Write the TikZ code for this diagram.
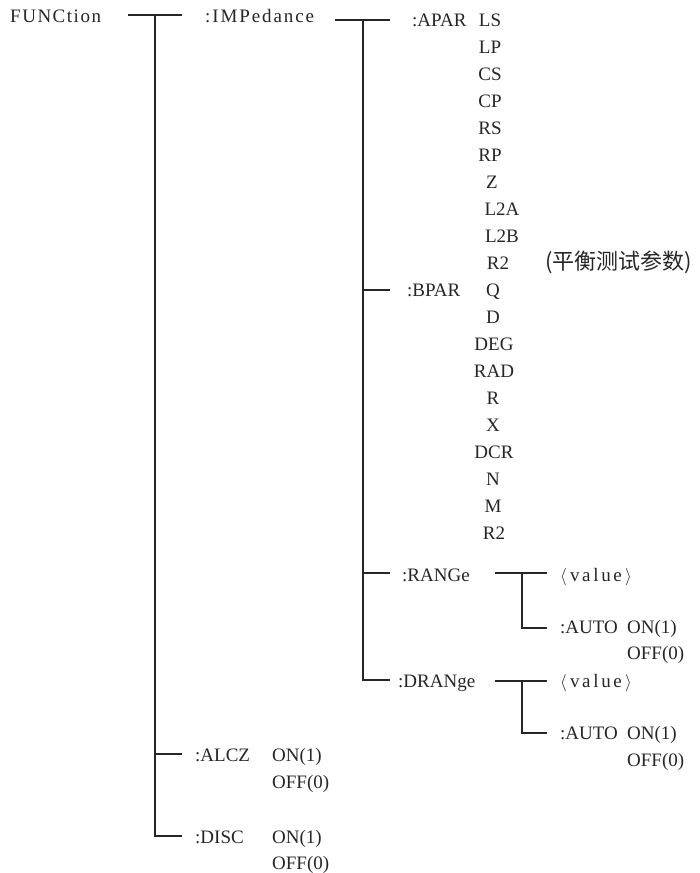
\documentclass[tikz,border=0pt]{standalone}
\usepackage{fontspec}
\setmainfont{Liberation Serif}
\newfontfamily\cjkfont{Noto Sans CJK SC}
\newfontfamily\spacedA[LetterSpace=8]{Liberation Serif}
\newfontfamily\spacedB[LetterSpace=10]{Liberation Serif}
\newfontfamily\spacedC[LetterSpace=14]{Liberation Serif}
\newcommand{\lbfont}{\fontsize{19}{22}\selectfont}
\newcommand{\cjfont}{\cjkfont\fontsize{22}{26}\selectfont}
\begin{document}
\begin{tikzpicture}[x=1pt,y=-1pt,
  lbl/.style={anchor=west, inner sep=0pt, text height=12.6pt, text depth=0pt, font=\lbfont, text=black!85},
  itm/.style={lbl, anchor=center},
  wire/.style={line width=1.3pt, draw=black!85}]
\useasboundingbox[fill=white] (0,0) rectangle (699,873);
% ---- level 0 ----
\node[lbl] (func) at (10,16) {\spacedA FUNCtion};
\node[lbl] (imp) at (205,16) {\spacedB :IMPedance};
\node[lbl] (alcz) at (195,755) {:ALCZ};
\node[lbl] (alczon) at (272,755) {ON(1)};
\node[lbl] (alczoff) at (272,782) {OFF(0)};
\node[lbl] (disc) at (195,837) {:DISC};
\node[lbl] (discon) at (272,837) {ON(1)};
\node[lbl] (discoff) at (272,863) {OFF(0)};
\coordinate (a1) at (128,15);
\coordinate (a2) at (182,15);
\coordinate (t0) at (155,15);
\coordinate (t1) at (155,754);
\coordinate (t2) at (155,836);
\coordinate (e1) at (182,754);
\coordinate (e2) at (182,836);
\draw[wire] (a1) -- (a2);
\draw[wire] (t0) -- (t2) -- (e2);
\draw[wire] (t1) -- (e1);
% ---- level 1 (IMPedance) ----
\node[lbl] (apar) at (412,20) {:APAR};
\node[lbl] (bpar) at (407,290) {:BPAR};
\node[lbl] (range) at (402,575) {:RANGe};
\node[lbl] (drange) at (398,681) {:DRANge};
\coordinate (b1) at (335,20);
\coordinate (b2) at (390,20);
\coordinate (u0) at (363,20);
\coordinate (u1) at (363,290);
\coordinate (u2) at (363,573);
\coordinate (u3) at (363,680);
\coordinate (f1) at (390,290);
\coordinate (f2) at (390,573);
\coordinate (f3) at (390,680);
\draw[wire] (b1) -- (b2);
\draw[wire] (u0) -- (u3) -- (f3);
\draw[wire] (u1) -- (f1);
\draw[wire] (u2) -- (f2);
% ---- APAR items ----
\node[itm] (ls) at (490,20) {LS};
\node[itm] (lp) at (490,47) {LP};
\node[itm] (cs) at (490,74) {CS};
\node[itm] (cp) at (490,101) {CP};
\node[itm] (rs) at (490,128) {RS};
\node[itm] (rp) at (490,155) {RP};
\node[itm] (z) at (492,182) {Z};
\node[itm] (l2a) at (502,209) {L2A};
\node[itm] (l2b) at (502,236) {L2B};
\node[itm] (r2a) at (498,263) {R2};
\node[lbl, font=\cjfont, text height=12.6pt] (note) at (545,263) {(平衡测试参数)};
% ---- BPAR items ----
\node[itm] (q) at (493,290) {Q};
\node[itm] (d) at (493,317) {D};
\node[itm] (deg) at (494,344) {DEG};
\node[itm] (rad) at (494,371) {RAD};
\node[itm] (r) at (493,398) {R};
\node[itm] (x) at (493,425) {X};
\node[itm] (dcr) at (494,452) {DCR};
\node[itm] (n) at (493,479) {N};
\node[itm] (m) at (493,506) {M};
\node[itm] (r2b) at (494,533) {R2};
% ---- RANGe ----
\node[lbl] (rval) at (560,575) {$\langle$\,{\spacedC value}\,$\rangle$};
\node[lbl] (rauto) at (560,627) {:AUTO};
\node[lbl] (ron) at (627,627) {ON(1)};
\node[lbl] (roff) at (627,653) {OFF(0)};
\coordinate (c1) at (495,573);
\coordinate (c2) at (547,573);
\coordinate (cj) at (522,573);
\coordinate (cb) at (522,628);
\coordinate (ce) at (547,628);
\draw[wire] (c1) -- (c2);
\draw[wire] (cj) -- (cb) -- (ce);
% ---- DRANge ----
\node[lbl] (dval) at (560,681) {$\langle$\,{\spacedC value}\,$\rangle$};
\node[lbl] (dauto) at (560,733) {:AUTO};
\node[lbl] (don) at (627,733) {ON(1)};
\node[lbl] (doff) at (627,760) {OFF(0)};
\coordinate (g1) at (495,681);
\coordinate (g2) at (547,681);
\coordinate (gj) at (522,681);
\coordinate (gb) at (522,733);
\coordinate (ge) at (547,733);
\draw[wire] (g1) -- (g2);
\draw[wire] (gj) -- (gb) -- (ge);
\end{tikzpicture}
\end{document}
